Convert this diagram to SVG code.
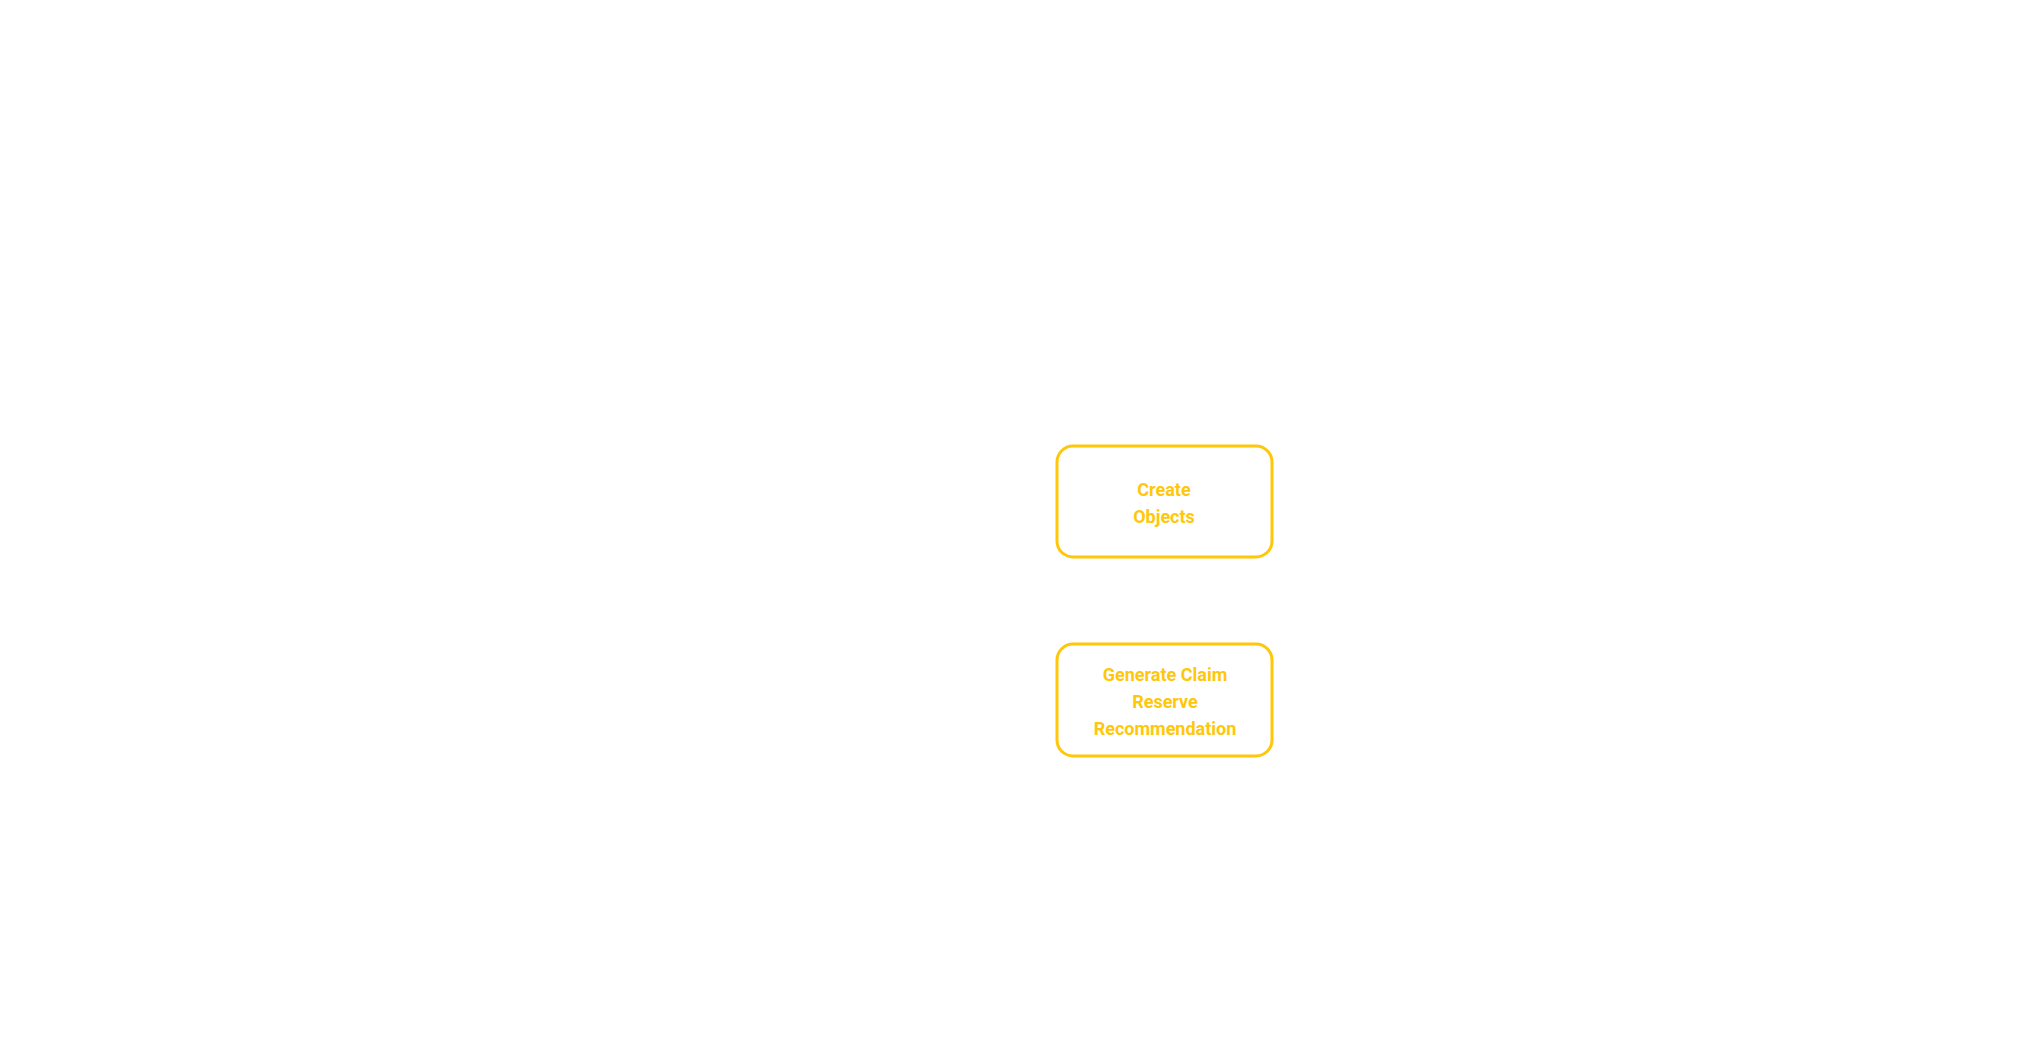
<svg xmlns="http://www.w3.org/2000/svg" width="2031" height="1062" viewBox="0 0 2031 1062">
<style>
.box{fill:#fff;stroke:#FFC709;stroke-width:3}
.t{font-family:"Roboto","Liberation Sans",sans-serif;font-weight:bold;font-size:18px;fill:#FFC709;text-anchor:middle}
</style>
<rect width="2031" height="1062" fill="#fff"/>
<g id="connectors"></g>
<g id="create-objects">
<rect class="box" x="1057" y="446" width="215" height="111" rx="16"/>
<text class="t" x="1164" y="496">Create</text>
<text class="t" x="1164" y="523">Objects</text>
</g>
<g id="generate-claim">
<rect class="box" x="1057" y="644" width="215" height="112" rx="16"/>
<text class="t" x="1165" y="681">Generate Claim</text>
<text class="t" x="1165" y="708">Reserve</text>
<text class="t" x="1165" y="735">Recommendation</text>
</g>
</svg>
